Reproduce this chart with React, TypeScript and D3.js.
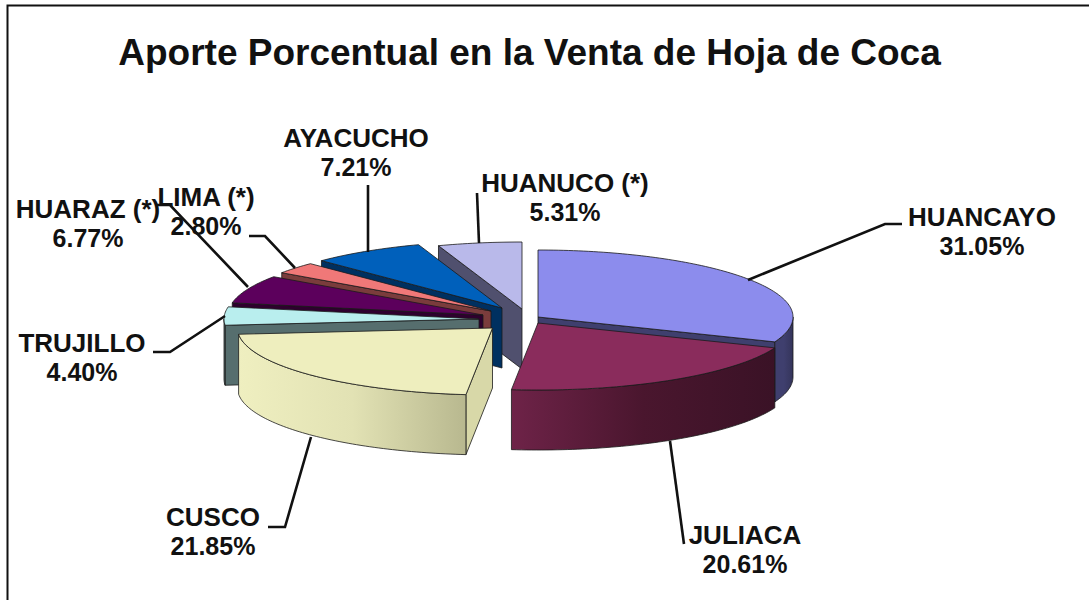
import React, { useEffect, useRef } from 'react';
import * as d3 from 'd3';

const width = 1089;
const height = 600;

// Slice data, clockwise from 12 o'clock
const regions = ['HUANCAYO', 'JULIACA', 'CUSCO', 'TRUJILLO', 'HUARAZ (*)', 'LIMA (*)', 'AYACUCHO', 'HUANUCO (*)'];
const shares = [31.05, 20.61, 21.85, 4.4, 6.77, 2.8, 7.21, 5.31];

const topColors = ['#8c8ced', '#8a2c5c', '#eeeebe', '#b9eeee', '#5c005c', '#f07878', '#0060bb', '#b9b9ea'];
const sideColors = ['#3f3f6e', '#6e2348', '#d8d8a8', '#566e6e', '#2e002e', '#7a3c3c', '#003060', '#50506e'];
// wall gradients left -> middle -> right
const wallStops = [
  ['#3f3f6e', '#3f3f6e', '#34345a'],
  ['#6e2348', '#4a162e', '#3a1226'],
  ['#efefc0', '#e2e2b4', '#b8b88f'],
  ['#566e6e', '#566e6e', '#566e6e'],
  ['#2e002e', '#2e002e', '#2e002e'],
  ['#7a3c3c', '#7a3c3c', '#7a3c3c'],
  ['#003060', '#003060', '#003060'],
  ['#50506e', '#50506e', '#50506e'],
];

// pie layout
const rx = 255;
const ry = 67;
const depth = 60;
// where each exploded slice's apex ended up
const apexX = [538, 538, 492.5, 479, 483, 491, 502, 522];
const apexY = [317, 323, 328, 319, 315, 311, 308, 309];

// back to front
const drawOrder = [7, 6, 5, 4, 3, 0, 1, 2];

// label layout: centre x, first baseline
const labelX = [982, 745, 213, 82, 88, 206, 356, 565];
const labelY = [226, 544, 526, 352, 218, 206, 147, 192];
const lineGap = 29;

const leaders: [number, number][][] = [
  [[748, 280], [885, 224], [902, 224]],
  [[670, 441], [684, 544]],
  [[311, 437], [285, 527], [268, 527]],
  [[225, 316], [170, 352], [153, 352]],
  [[248, 287], [170, 205], [157, 205]],
  [[295, 268], [265, 236], [249, 236]],
  [[368, 252], [368, 185]],
  [[479, 243], [477, 193]],
];

const App = () => {
  const svgRef = useRef<SVGSVGElement>(null);

  useEffect(() => {
    const svg = d3.select(svgRef.current);
    svg.selectAll('*').remove();

    const font = '"Liberation Sans", Arial, sans-serif';

    svg.append('rect').attr('width', width).attr('height', height).attr('fill', '#fff');
    svg.append('path')
      .attr('d', `M7.5,${height}V5.5H${width}`)
      .attr('fill', 'none')
      .attr('stroke', '#111')
      .attr('stroke-width', 2);

    svg.append('text')
      .attr('x', 529.5)
      .attr('y', 65)
      .attr('text-anchor', 'middle')
      .attr('font-family', font)
      .attr('font-weight', 'bold')
      .attr('font-size', 37)
      .attr('fill', '#111')
      .text('Aporte Porcentual en la Venta de Hoja de Coca');

    const arcs = d3.pie<number>().sort(null)(shares);
    const defs = svg.append('defs');
    const line = d3.line();

    // point on the slice rim, angle in radians clockwise from the top
    const rim = (i: number, a: number, drop = 0): [number, number] => [
      apexX[i] + rx * Math.sin(a),
      apexY[i] - ry * Math.cos(a) + drop,
    ];
    const sweep = (i: number, a0: number, a1: number, drop = 0) => {
      const n = Math.max(2, Math.ceil(Math.abs(a1 - a0) / 0.02));
      return d3.range(n + 1).map((k) => rim(i, a0 + ((a1 - a0) * k) / n, drop));
    };

    const strokeCol = '#1a1a1a';
    const g = svg.append('g').attr('stroke', strokeCol).attr('stroke-width', 0.8).attr('stroke-linejoin', 'round');

    drawOrder.forEach((i) => {
      const { startAngle: a0, endAngle: a1 } = arcs[i];
      const apex: [number, number] = [apexX[i], apexY[i]];
      const apexLow: [number, number] = [apexX[i], apexY[i] + depth];

      // cut faces, only those turned towards the viewer
      const face = (a: number) => {
        g.append('path')
          .attr('d', line([apex, rim(i, a), rim(i, a, depth), apexLow]) + 'Z')
          .attr('fill', sideColors[i]);
      };
      if (Math.sin(a0) < 0) face(a0);
      if (Math.sin(a1) > 0.01) face(a1);

      // outer wall, the part of the rim on the front half
      const w0 = Math.max(a0, Math.PI / 2);
      const w1 = Math.min(a1, (3 * Math.PI) / 2);
      if (w1 > w0) {
        const top = sweep(i, w0, w1);
        const bottom = sweep(i, w1, w0, depth);
        const gradId = `wall-${i}`;
        const xs = top.map((p) => p[0]);
        const grad = defs.append('linearGradient')
          .attr('id', gradId)
          .attr('gradientUnits', 'userSpaceOnUse')
          .attr('x1', d3.min(xs)!)
          .attr('x2', d3.max(xs)!)
          .attr('y1', 0)
          .attr('y2', 0);
        wallStops[i].forEach((c, k) => {
          grad.append('stop').attr('offset', k / 2).attr('stop-color', c);
        });
        g.append('path')
          .attr('d', line([...top, ...bottom]) + 'Z')
          .attr('fill', `url(#${gradId})`);
      }

      // top of the slice
      g.append('path')
        .attr('d', line([apex, ...sweep(i, a0, a1)]) + 'Z')
        .attr('fill', topColors[i]);
    });

    // leader lines
    svg.append('g')
      .selectAll('path')
      .data(leaders)
      .join('path')
      .attr('d', (d) => line(d))
      .attr('fill', 'none')
      .attr('stroke', '#111')
      .attr('stroke-width', 2.6);

    // labels
    const labels = svg.append('g')
      .attr('font-family', font)
      .attr('font-weight', 'bold')
      .attr('font-size', 26)
      .attr('text-anchor', 'middle')
      .attr('fill', '#111');
    regions.forEach((name, i) => {
      labels.append('text').attr('x', labelX[i]).attr('y', labelY[i]).text(name);
      labels.append('text').attr('x', labelX[i]).attr('y', labelY[i] + lineGap).attr('font-size', 25).text(`${shares[i].toFixed(2)}%`);
    });
  }, []);

  return <svg ref={svgRef} width={width} height={height} style={{ position: 'absolute', left: 0, top: 0 }} />;
};

export default App;
